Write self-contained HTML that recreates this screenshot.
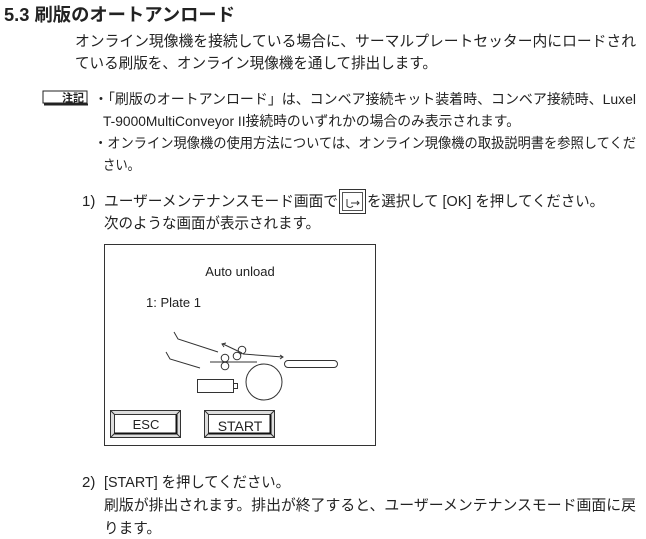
<!DOCTYPE html>
<html><head><meta charset="utf-8"><style>
html,body{margin:0;padding:0;background:#fff;width:646px;height:539px;overflow:hidden}
svg text{font-family:"Liberation Sans","Noto Sans CJK JP",sans-serif;fill:#222}
</style></head><body>
<svg width="646" height="539" viewBox="0 0 646 539" xmlns="http://www.w3.org/2000/svg">
<text x="4" y="21" font-size="18" textLength="231" lengthAdjust="spacingAndGlyphs" font-weight="bold">5.3 刷版のオートアンロード</text>
<text x="75" y="46" font-size="15" textLength="561" lengthAdjust="spacingAndGlyphs">オンライン現像機を接続している場合に、サーマルプレートセッター内にロードされ</text>
<text x="75" y="68" font-size="15" textLength="362" lengthAdjust="spacingAndGlyphs">ている刷版を、オンライン現像機を通して排出します。</text>
<rect x="43" y="91" width="44" height="12" fill="#fff" stroke="#222" stroke-width="1"/>
<line x1="44" y1="104.5" x2="88" y2="104.5" stroke="#222" stroke-width="2"/>
<text x="62" y="101.5" font-size="11" font-weight="bold">注記</text>
<text x="94" y="104" font-size="14" textLength="542" lengthAdjust="spacingAndGlyphs">・「刷版のオートアンロード」は、コンベア接続キット装着時、コンベア接続時、Luxel</text>
<text x="103" y="126" font-size="14" textLength="417" lengthAdjust="spacingAndGlyphs">T-9000MultiConveyor II接続時のいずれかの場合のみ表示されます。</text>
<text x="94" y="148" font-size="14" textLength="542" lengthAdjust="spacingAndGlyphs">・オンライン現像機の使用方法については、オンライン現像機の取扱説明書を参照してくだ</text>
<text x="103" y="170" font-size="14" textLength="37" lengthAdjust="spacingAndGlyphs">さい。</text>
<text x="82" y="206" font-size="15">1)</text>
<text x="104" y="206" font-size="15" textLength="234" lengthAdjust="spacingAndGlyphs">ユーザーメンテナンスモード画面で</text>
<rect x="339.5" y="189.5" width="26" height="24" fill="#fff" stroke="#333"/>
<rect x="342.5" y="192.5" width="20" height="18" fill="none" stroke="#555"/>
<path d="M347 199 v7 q3 3 6 0 M351 203 h8 m-2 -2 l2 2 l-2 2" fill="none" stroke="#333"/>
<text x="367" y="206" font-size="15" textLength="237" lengthAdjust="spacingAndGlyphs">を選択して [OK] を押してください。</text>
<text x="104" y="228" font-size="15" textLength="216" lengthAdjust="spacingAndGlyphs">次のような画面が表示されます。</text>
<rect x="104.5" y="244.5" width="271" height="201" fill="#fff" stroke="#333"/>
<text x="240" y="276" font-size="13" text-anchor="middle">Auto unload</text>
<text x="146" y="307" font-size="13">1: Plate 1</text>
<g fill="none" stroke="#333" stroke-width="1">
<path d="M174 332 L178 339 L218 352"/>
<path d="M166 352 L170 359 L200 368"/>
<circle cx="225" cy="358" r="3.8"/><circle cx="225" cy="366" r="3.8"/>
<circle cx="237" cy="356" r="3.8"/><circle cx="242" cy="350" r="3.8"/>
<line x1="210" y1="362" x2="257" y2="362"/>
<line x1="242" y1="353" x2="223" y2="344"/>
<path d="M226 343 L222 344 L224 347"/>
<line x1="243" y1="354" x2="283" y2="357"/>
<path d="M280 355 L283 357 L280 359"/>
<rect x="284.5" y="360.5" width="53" height="7" rx="3.5"/>
<circle cx="264" cy="382" r="18"/>
<rect x="197.5" y="379.5" width="36" height="13"/>
<rect x="233.5" y="383.5" width="4" height="5"/>
</g>
<g stroke="#333" fill="none">
<rect x="110.5" y="410.5" width="70" height="27" fill="#ddd"/>
<rect x="114.5" y="414.5" width="62" height="19" fill="#fff"/>
<path d="M110.5 410.5 L114.5 414.5 M180.5 410.5 L176.5 414.5 M110.5 437.5 L114.5 433.5 M180.5 437.5 L176.5 433.5"/>
<path d="M176.5 414.5 V433.5 H114.5" stroke="#111" stroke-width="2"/>
<rect x="204.5" y="410.5" width="70" height="27" fill="#ddd"/>
<rect x="208.5" y="414.5" width="62" height="19" fill="#fff"/>
<path d="M204.5 410.5 L208.5 414.5 M274.5 410.5 L270.5 414.5 M204.5 437.5 L208.5 433.5 M274.5 437.5 L270.5 433.5"/>
<path d="M270.5 414.5 V433.5 H208.5" stroke="#111" stroke-width="2"/>
</g>
<text x="146" y="429" font-size="13" text-anchor="middle">ESC</text>
<text x="240" y="431" font-size="14" text-anchor="middle">START</text>
<text x="82" y="487" font-size="15">2)</text>
<text x="104" y="487" font-size="15" textLength="186" lengthAdjust="spacingAndGlyphs">[START] を押してください。</text>
<text x="104" y="510" font-size="15" textLength="532" lengthAdjust="spacingAndGlyphs">刷版が排出されます。排出が終了すると、ユーザーメンテナンスモード画面に戻</text>
<text x="104" y="533" font-size="15" textLength="57" lengthAdjust="spacingAndGlyphs">ります。</text>
</svg>
</body></html>
